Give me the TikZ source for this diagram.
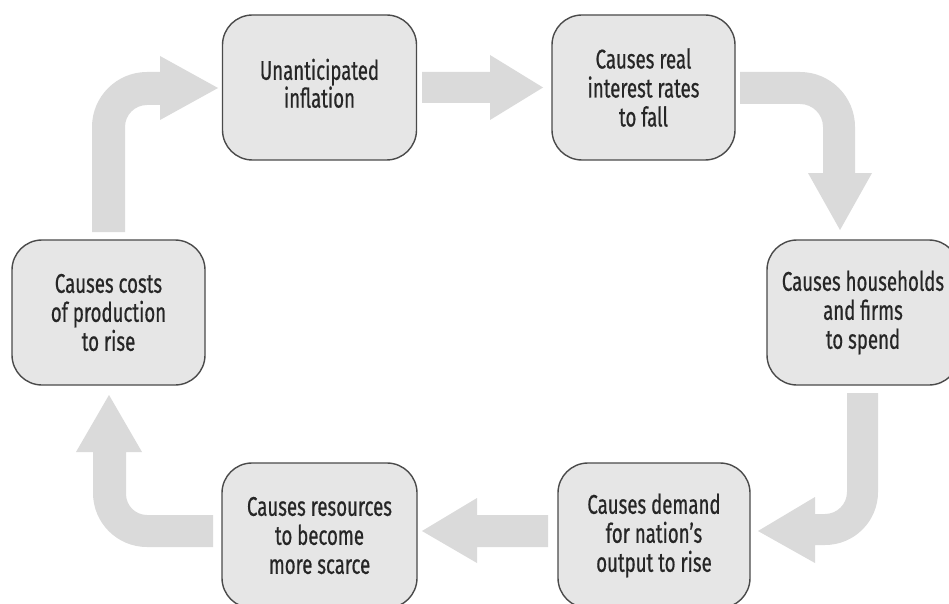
\documentclass[tikz,border=0pt]{standalone}
\usepackage{fontspec}
\setmainfont[FakeStretch=0.69,FakeBold=0.6]{Fira Sans}
\definecolor{arrowgray}{HTML}{DADADA}
\definecolor{boxfill}{HTML}{E6E6E6}
\definecolor{boxline}{HTML}{4A4A4A}
\definecolor{txt}{HTML}{262626}
\tikzset{
  causebox/.style={draw=boxline, line width=1.4pt, fill=boxfill, rounded corners=30pt,
    minimum width=194pt, minimum height=145pt, align=center, text=txt,
    font=\fontsize{27}{29}\selectfont, inner sep=0pt},
  blockarrow/.style={fill=arrowgray, draw=none}
}
\begin{document}
\begin{tikzpicture}[x=1pt,y=1pt]
\useasboundingbox (0,0) rectangle (949,-604);
\fill[white] (0,0) rectangle (949,-604);
\clip (0,0) rectangle (949,-604);
% boxes
\node[causebox] (A) at (319.5,-87.5) {\raisebox{3pt}{\begin{tabular}{@{}c@{}}Unanticipated\\[-2pt]inflation\end{tabular}}};
\node[causebox, minimum width=183pt] (B) at (643.5,-87.5) {Causes real\\interest rates\\to fall};
\node[causebox, minimum width=192pt] (C) at (863,-312.5) {Causes households\\and firms\\to spend};
\node[causebox, minimum width=192pt] (D) at (654,-535.5) {Causes demand\\for nation’s\\output to rise};
\node[causebox, minimum width=195pt] (E) at (319.5,-535.5) {Causes resources\\to become\\more scarce};
\node[causebox, minimum width=193pt] (F) at (108.5,-312.5) {Causes costs\\of production\\to rise};
% arrows
% F -> A
\fill[blockarrow] (92,-232) -- (92,-127) arc[start angle=180,end angle=90,radius=55]
  -- (160,-72) -- (160,-56) -- (218,-88) -- (160,-120) -- (160,-105) -- (147,-105)
  arc[start angle=90,end angle=180,radius=22] -- (125,-232) -- cycle;
% A -> B
\fill[blockarrow] (422,-72) -- (490,-72) -- (490,-55) -- (543,-87.5) -- (490,-120)
  -- (490,-103) -- (422,-103) -- cycle;
% B -> C
\fill[blockarrow] (740,-72) -- (800,-72) arc[start angle=90,end angle=0,radius=55]
  -- (855,-173) -- (872,-173) -- (840,-230) -- (808,-173) -- (823,-173) -- (823,-127)
  arc[start angle=0,end angle=90,radius=23] -- (740,-104) -- cycle;
% C -> D
\fill[blockarrow] (878,-393) -- (878,-492) arc[start angle=0,end angle=-90,radius=53]
  -- (815,-545) -- (815,-563) -- (758,-531) -- (815,-497) -- (815,-514) -- (825,-514)
  arc[start angle=-90,end angle=0,radius=22] -- (847,-393) -- cycle;
% D -> E
\fill[blockarrow] (548,-515) -- (477,-515) -- (477,-498) -- (422,-531) -- (477,-563)
  -- (477,-547) -- (548,-547) -- cycle;
% E -> F
\fill[blockarrow] (213,-515) -- (147,-515) arc[start angle=-90,end angle=-180,radius=21]
  -- (126,-452) -- (142,-452) -- (109,-395) -- (76,-452) -- (93,-452) -- (93,-493)
  arc[start angle=180,end angle=270,radius=54] -- (213,-547) -- cycle;
\end{tikzpicture}
\end{document}
